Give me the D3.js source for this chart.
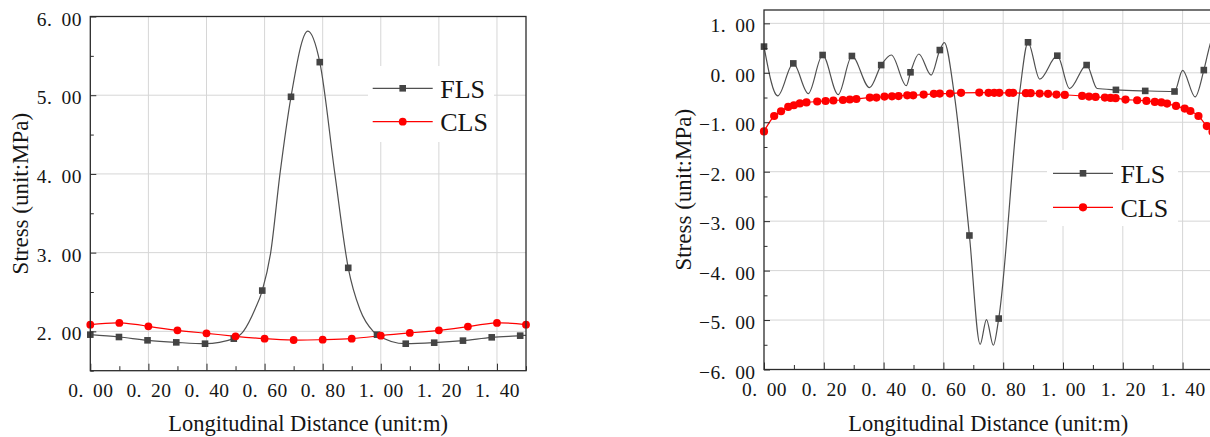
<!DOCTYPE html>
<html>
<head>
<meta charset="utf-8">
<script src="https://cdn.jsdelivr.net/npm/d3@7"></script>
<style>
  html, body { margin: 0; padding: 0; background: #fff; }
  svg { display: block; }
</style>
</head>
<body>
<svg id="chart" width="1210" height="437"></svg>
<script>
// ---- shared axis ticks ----
const xMajorTicks = [0, 0.2, 0.4, 0.6, 0.8, 1.0, 1.2, 1.4];
const xMinorTicks = [0.1, 0.3, 0.5, 0.7, 0.9, 1.1, 1.3, 1.5];
const seriesNames = ["FLS", "CLS"];
const xTitle = "Longitudinal Distance (unit:m)";
const yTitle = "Stress (unit:MPa)";

// ---- left panel ----
const aYMajorTicks = [2, 3, 4, 5, 6];
const aYMinorTicks = [1.5, 2.5, 3.5, 4.5, 5.5];
const aFlsMarkX = [0, 0.0987, 0.197, 0.296, 0.395, 0.494, 0.592, 0.691, 0.790, 0.888, 0.987, 1.086, 1.184, 1.283, 1.382, 1.480];
const aFlsMarkY = [1.958, 1.928, 1.886, 1.860, 1.843, 1.907, 2.518, 4.980, 5.420, 2.807, 1.958, 1.843, 1.856, 1.882, 1.924, 1.945];
const aFlsMidX = [0.527, 0.567, 0.621, 0.653, 0.749, 0.842, 0.928, 0.974, 1.500];
const aFlsMidY = [2.000, 2.280, 3.000, 4.000, 5.813, 4.000, 2.280, 2.000, 1.950];
const aClsX = [0, 0.1, 0.2, 0.3, 0.4, 0.5, 0.6, 0.7, 0.8, 0.9, 1.0, 1.1, 1.2, 1.3, 1.4, 1.5];
const aClsY = [2.085, 2.107, 2.064, 2.013, 1.975, 1.937, 1.907, 1.890, 1.894, 1.907, 1.945, 1.980, 2.013, 2.060, 2.107, 2.085];

// ---- right panel ----
const bYMajorTicks = [-6, -5, -4, -3, -2, -1, 0, 1];
const bYMinorTicks = [-5.5, -4.5, -3.5, -2.5, -1.5, -0.5, 0.5];
const bFlsMarkX = [0, 0.098, 0.196, 0.294, 0.392, 0.490, 0.588, 0.687, 0.785, 0.883, 0.981, 1.079, 1.177, 1.275, 1.373, 1.471];
const bFlsMarkY = [0.53, 0.19, 0.36, 0.34, 0.156, 0.01, 0.46, -3.29, -4.97, 0.617, 0.346, 0.157, -0.345, -0.366, -0.378, 0.055];
const bFlsMidX = [0.046, 0.148, 0.248, 0.353, 0.426, 0.476, 0.518, 0.559, 0.603, 0.636, 0.723, 0.744, 0.767, 0.856, 0.922, 1.022, 1.114, 1.400, 1.442, 1.487, 1.500];
const bFlsMidY = [-0.467, -0.42, -0.44, -0.30, 0.36, -0.26, 0.38, -0.047, 0.61, -0.42, -5.49, -4.99, -5.51, -0.35, -0.128, -0.318, -0.318, 0.049, -0.487, 0.46, 0.75];
const bClsX = [0, 0.034, 0.057, 0.081, 0.100, 0.120, 0.142, 0.178, 0.206, 0.232, 0.264, 0.287, 0.309, 0.354, 0.376,
               0.403, 0.428, 0.450, 0.479, 0.499, 0.534, 0.568, 0.588, 0.622, 0.659, 0.720, 0.751, 0.770, 0.787, 0.820,
               0.833, 0.876, 0.892, 0.922, 0.950, 0.978, 1.006, 1.064, 1.087, 1.109, 1.140, 1.159, 1.176, 1.209, 1.248,
               1.279, 1.307, 1.329, 1.348, 1.378, 1.407, 1.426, 1.453, 1.481, 1.500];
const bClsY = [-1.185, -0.874, -0.778, -0.690, -0.656, -0.620, -0.600, -0.580, -0.570, -0.560, -0.550, -0.540, -0.530, -0.500, -0.500,
               -0.480, -0.475, -0.470, -0.455, -0.455, -0.440, -0.425, -0.420, -0.420, -0.405, -0.400, -0.405, -0.405, -0.405, -0.405,
               -0.405, -0.413, -0.413, -0.420, -0.426, -0.440, -0.447, -0.467, -0.480, -0.488, -0.500, -0.508, -0.514, -0.541, -0.555,
               -0.569, -0.589, -0.600, -0.622, -0.670, -0.724, -0.772, -0.874, -1.077, -1.190];

const FLS_COLOR = "#505050";
const FLS_MARK = "#444444";
const CLS_COLOR = "#ff0000";
const GRID = "#d6d6d6";
const AXIS = "#2b2b2b";
const FONT = "Liberation Serif";
const INK = "#151515";

const svg = d3.select("#chart");

const zip = (xs, ys) => xs.map((x, i) => ({ x, y: ys[i] }));
const fmt = v => d3.format(".2f")(v).replace(".", ". ");

function drawPanel(cfg) {
  const x = d3.scaleLinear().domain([0, 1.5]).range([cfg.left, cfg.right]);
  const y = d3.scaleLinear().domain(cfg.yDomain).range([cfg.bottom, cfg.top]);
  const g = svg.append("g");

  // grid
  const grid = g.append("g").attr("stroke", GRID).attr("stroke-width", 1);
  grid.selectAll("line.v").data(xMajorTicks.filter(v => v > 0)).join("line")
    .attr("x1", d => x(d)).attr("x2", d => x(d)).attr("y1", cfg.top).attr("y2", cfg.bottom);
  grid.selectAll("line.h").data(cfg.yMajor.filter(v => y(v) > cfg.top + 1 && y(v) < cfg.bottom - 1)).join("line")
    .attr("x1", cfg.left).attr("x2", cfg.right).attr("y1", d => y(d)).attr("y2", d => y(d));

  // FLS curve through markers and intermediate knots
  const flsMarks = zip(cfg.flsMarkX, cfg.flsMarkY);
  const flsLine = flsMarks.concat(zip(cfg.flsMidX, cfg.flsMidY)).sort((a, b) => a.x - b.x);
  const cls = zip(cfg.clsX, cfg.clsY);

  g.append("path").datum(flsLine)
    .attr("fill", "none").attr("stroke", FLS_COLOR).attr("stroke-width", 1.2)
    .attr("d", d3.line().x(d => x(d.x)).y(d => y(d.y)).curve(d3.curveMonotoneX));
  g.append("path").datum(cls)
    .attr("fill", "none").attr("stroke", CLS_COLOR).attr("stroke-width", 1.2)
    .attr("d", d3.line().x(d => x(d.x)).y(d => y(d.y)).curve(cfg.clsCurve));

  const sq = 6.6;
  g.append("g").selectAll("rect").data(flsMarks).join("rect")
    .attr("x", d => x(d.x) - sq / 2).attr("y", d => y(d.y) - sq / 2)
    .attr("width", sq).attr("height", sq).attr("fill", FLS_MARK);
  g.append("g").selectAll("circle").data(cls).join("circle")
    .attr("cx", d => x(d.x)).attr("cy", d => y(d.y)).attr("r", cfg.clsR).attr("fill", CLS_COLOR);

  // axes (ticks point inward)
  const xa = g.append("g").attr("transform", `translate(0,${cfg.bottom})`)
    .call(d3.axisBottom(x).tickValues(xMajorTicks).tickSize(-7).tickFormat(fmt));
  xa.selectAll(".tick text").attr("y", 26).attr("dy", null);
  g.append("g").attr("transform", `translate(0,${cfg.bottom})`)
    .call(d3.axisBottom(x).tickValues(xMinorTicks).tickSize(-4.5).tickFormat(""));

  const ya = g.append("g").attr("transform", `translate(${cfg.left},0)`)
    .call(d3.axisLeft(y).tickValues(cfg.yMajor).tickSize(-6).tickFormat(fmt));
  ya.selectAll(".tick text").attr("x", -8.5).attr("y", 8.6).attr("dy", null);
  g.append("g").attr("transform", `translate(${cfg.left},0)`)
    .call(d3.axisLeft(y).tickValues(cfg.yMinor).tickSize(-3.5).tickFormat(""));

  g.selectAll(".domain").remove();
  g.selectAll(".tick line").attr("stroke", AXIS).attr("stroke-width", 1);
  g.selectAll(".tick text")
    .attr("fill", INK).attr("font-family", FONT).attr("font-size", 19.5)
    .style("word-spacing", "4px").style("letter-spacing", "0.4px");

  // frame
  g.append("rect").attr("x", cfg.left).attr("y", cfg.top)
    .attr("width", cfg.right - cfg.left).attr("height", cfg.bottom - cfg.top)
    .attr("fill", "none").attr("stroke", AXIS).attr("stroke-width", 1.3);

  // titles
  g.append("text").attr("x", (cfg.left + cfg.right) / 2).attr("y", 431)
    .attr("text-anchor", "middle").attr("fill", INK).attr("font-family", FONT).attr("font-size", 22.5).text(xTitle);
  g.append("text").attr("transform", `translate(${cfg.yTitleX},${(cfg.top + cfg.bottom) / 2}) rotate(-90)`)
    .attr("text-anchor", "middle").attr("fill", INK).attr("font-family", FONT).attr("font-size", 23).text(yTitle);

  // legend
  const L = cfg.legend;
  g.append("rect").attr("x", L.boxX).attr("y", L.boxY).attr("width", L.boxW).attr("height", L.boxH).attr("fill", "#fff");
  seriesNames.forEach((name, i) => {
    const ly = L.y + i * L.gap;
    const col = i === 0 ? FLS_COLOR : CLS_COLOR;
    g.append("line").attr("x1", L.x).attr("x2", L.x + 60).attr("y1", ly).attr("y2", ly)
      .attr("stroke", col).attr("stroke-width", 1.2);
    if (i === 0) {
      g.append("rect").attr("x", L.x + 30 - sq / 2).attr("y", ly - sq / 2).attr("width", sq).attr("height", sq).attr("fill", FLS_MARK);
    } else {
      g.append("circle").attr("cx", L.x + 30).attr("cy", ly).attr("r", cfg.clsR).attr("fill", CLS_COLOR);
    }
    g.append("text").attr("x", L.x + 67.5).attr("y", ly + 9.2)
      .attr("fill", INK).attr("font-family", FONT).attr("font-size", 26).text(name);
  });
}

drawPanel({
  left: 90.3, right: 526, top: 16.5, bottom: 370.7,
  yDomain: [1.5, 6.0], yMajor: aYMajorTicks, yMinor: aYMinorTicks,
  flsMarkX: aFlsMarkX, flsMarkY: aFlsMarkY, flsMidX: aFlsMidX, flsMidY: aFlsMidY,
  clsX: aClsX, clsY: aClsY, clsCurve: d3.curveNatural, clsR: 3.9,
  yTitleX: 27.5,
  legend: { x: 372.7, y: 88.3, gap: 33.4, boxX: 368, boxY: 66, boxW: 126, boxH: 76 }
});

drawPanel({
  left: 764, right: 1212.5, top: 10, bottom: 369.5,
  yDomain: [-6, 1.27], yMajor: bYMajorTicks, yMinor: bYMinorTicks,
  flsMarkX: bFlsMarkX, flsMarkY: bFlsMarkY, flsMidX: bFlsMidX, flsMidY: bFlsMidY,
  clsX: bClsX, clsY: bClsY, clsCurve: d3.curveMonotoneX, clsR: 4.1,
  yTitleX: 691,
  legend: { x: 1053, y: 173.3, gap: 34, boxX: 1047, boxY: 150, boxW: 131, boxH: 76 }
});
</script>
</body>
</html>
